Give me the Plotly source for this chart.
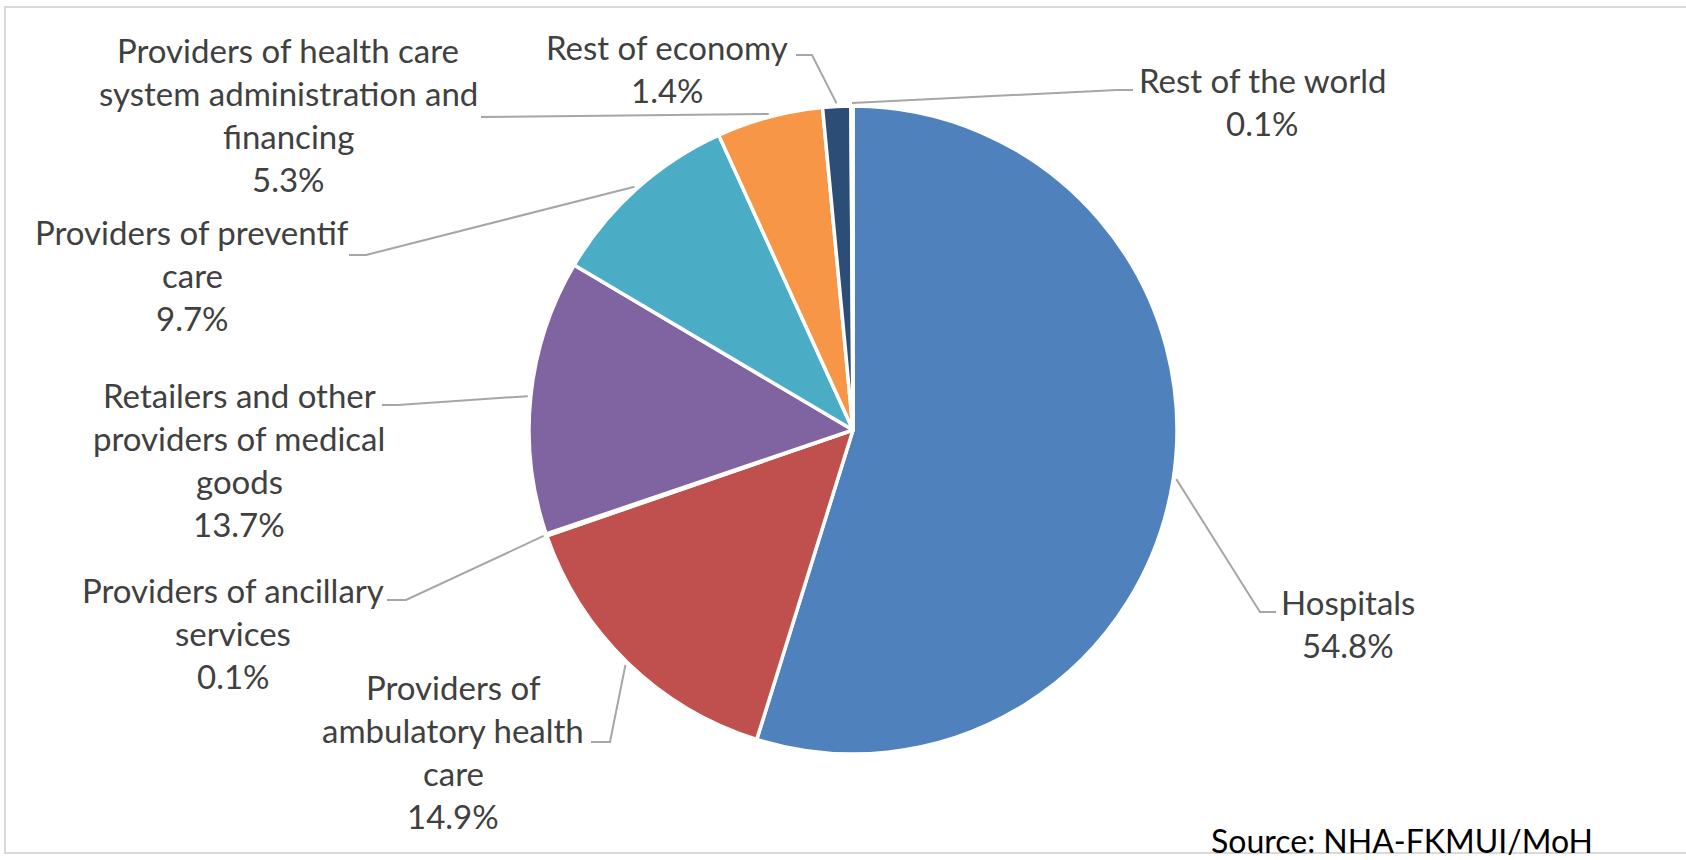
import math
import plotly.graph_objects as go

# ---- data ----
categories = [
    "Hospitals",
    "Providers of ambulatory health care",
    "Providers of ancillary services",
    "Retailers and other providers of medical goods",
    "Providers of preventif care",
    "Providers of health care system administration and financing",
    "Rest of economy",
    "Rest of the world",
]
values = [54.8, 14.9, 0.1, 13.7, 9.7, 5.3, 1.4, 0.1]
colors = ["#4F81BD", "#C0504D", "#9BBB59", "#8064A2", "#4BACC6", "#F79646", "#2C4D75", "#772C2A"]

# wrapped label lines (presentation)
label_lines = [
    ["Hospitals"],
    ["Providers of", "ambulatory health", "care"],
    ["Providers of ancillary", "services"],
    ["Retailers and other", "providers of medical", "goods"],
    ["Providers of preventif", "care"],
    ["Providers of health care", "system administration and", "financing"],
    ["Rest of economy"],
    ["Rest of the world"],
]
# label block position: center x, first line center y (pixels)
label_pos = [(1348, 602), (453, 687), (233, 590), (239, 395), (192, 232), (288, 50), (667, 47), (1262, 80)]
# leader elbow and end points (pixels)
leader_pts = [
    ((1260, 612), (1276, 612)),
    ((610, 742), (591, 742)),
    ((406, 600), (387, 600)),
    ((398, 405), (382, 405)),
    ((366, 255), (349, 255)),
    ((497, 117), (481, 117)),
    ((812, 55), (796, 55)),
    ((1117, 90), (1133, 90)),
]

W, H = 1686, 860
CX, CY, R = 853, 430, 324
LINE_H = 43
FONT = "Lato"
TXT = "#404040"

fig = go.Figure()
fig.add_trace(go.Pie(
    labels=categories, values=values, sort=False, direction="clockwise", rotation=0,
    marker=dict(colors=colors, line=dict(color="white", width=3.5)),
    textinfo="none", hoverinfo="label+percent", showlegend=False,
    domain=dict(x=[(CX - R) / W, (CX + R) / W], y=[(H - CY - R) / H, (H - CY + R) / H]),
))

annotations = []
total = sum(values)
cum = 0.0
for i, v in enumerate(values):
    mid = (cum + v / 2) / total * 2 * math.pi
    cum += v
    ax = CX + (R + 3) * math.sin(mid)
    ay = CY - (R + 3) * math.cos(mid)
    (ex, ey), (fx, fy) = leader_pts[i]
    fig.add_trace(go.Scatter(
        x=[ax, ex, fx], y=[ay, ey, fy], mode="lines",
        line=dict(color="#A6A6A6", width=2), hoverinfo="skip", showlegend=False,
        xaxis="x", yaxis="y",
    ))
    lines = label_lines[i] + [f"{v:.1f}%"]
    lx, ly = label_pos[i]
    for j, t in enumerate(lines):
        annotations.append(dict(
            x=lx, y=ly + j * LINE_H, xref="x", yref="y", text=t, showarrow=False,
            xanchor="center", yanchor="middle", font=dict(family=FONT, size=33, color=TXT),
        ))

annotations.append(dict(
    x=1402, y=840, xref="x", yref="y", text="Source: NHA-FKMUI/MoH", showarrow=False,
    xanchor="center", yanchor="middle", font=dict(family=FONT, size=32, color="#000000"),
))

fig.update_layout(
    width=W, height=H, margin=dict(l=0, r=0, t=0, b=0),
    paper_bgcolor="white", plot_bgcolor="rgba(0,0,0,0)",
    xaxis=dict(range=[0, W], visible=False, fixedrange=True, domain=[0, 1]),
    yaxis=dict(range=[H, 0], visible=False, fixedrange=True, domain=[0, 1]),
    annotations=annotations,
    shapes=[dict(type="rect", xref="x", yref="y", x0=5, y0=7, x1=W + 5, y1=853,
                 line=dict(color="#D9D9D9", width=2), layer="below")],
)

fig.write_html(
    "out.html",
    config={"displayModeBar": False},
    post_script="document.body.style.margin='0px';document.body.style.overflow='hidden';",
)
